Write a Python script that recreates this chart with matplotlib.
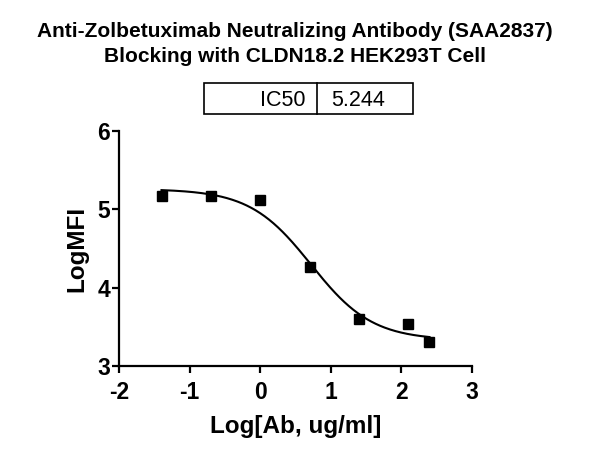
import numpy as np
import matplotlib
matplotlib.use("Agg")
import matplotlib.pyplot as plt
from matplotlib.patches import Rectangle
from matplotlib.lines import Line2D

plt.rcParams['font.family'] = ['Liberation Sans', 'DejaVu Sans']

# Data
log_conc = [-1.398, -0.699, 0.0, 0.699, 1.398, 2.097, 2.398]
log_mfi = [5.175, 5.17, 5.12, 4.27, 3.60, 3.535, 3.31]

# 4PL fit parameters
fit_top = 5.26
fit_bottom = 3.33
fit_logic50 = 0.7197
fit_hill = 1.0
ic50_label = "IC50"
ic50_value = "5.244"

title_lines = ["Anti-Zolbetuximab Neutralizing Antibody (SAA2837)",
               "Blocking with CLDN18.2 HEK293T Cell"]
xlabel = "Log[Ab, ug/ml]"
ylabel = "LogMFI"
xticks = [-2, -1, 0, 1, 2, 3]
yticks = [3, 4, 5, 6]

W, H = 590, 455
fig = plt.figure(figsize=(5.9, 4.55), dpi=100)
ax = fig.add_axes([119 / W, 1 - 366 / H, (472 - 119) / W, (366 - 131) / H])

xs = np.linspace(min(log_conc), max(log_conc), 300)
ys = fit_bottom + (fit_top - fit_bottom) / (1 + 10 ** ((xs - fit_logic50) * fit_hill))
ax.plot(xs, ys, color='black', lw=1.5, zorder=2)
ax.plot(log_conc, log_mfi, 's', color='black', markersize=7.5, zorder=3)

ax.set_xlim(-2, 3)
ax.set_ylim(3, 6)
ax.set_xticks(xticks)
ax.set_yticks(yticks)
ax.set_xticklabels([f"{t}" for t in xticks], fontsize=16.5, fontweight='bold')
ax.set_yticklabels([f"{t}" for t in yticks], fontsize=16.5, fontweight='bold')
ax.tick_params(direction='out', length=5, width=1.6)
ax.tick_params(axis='x', pad=5.5)
ax.tick_params(axis='y', pad=1.5)
for s in ['top', 'right']:
    ax.spines[s].set_visible(False)
for s in ['left', 'bottom']:
    ax.spines[s].set_linewidth(1.6)
ax.set_xlabel(xlabel, fontsize=17.5, fontweight='bold', labelpad=8)
ax.set_ylabel(ylabel, fontsize=17.5, fontweight='bold', labelpad=6.5)

fig.text(0.5, 1 - 37 / H, title_lines[0], ha='center', va='baseline', fontsize=15, fontweight='bold')
fig.text(0.5, 1 - 62 / H, title_lines[1], ha='center', va='baseline', fontsize=15, fontweight='bold')

# IC50 box
x0, x1, xm = 204 / W, 413 / W, 317 / W
y0, y1 = 1 - 114 / H, 1 - 83 / H
fig.add_artist(Rectangle((x0, y0), x1 - x0, y1 - y0, transform=fig.transFigure,
                         fill=False, lw=1.2, edgecolor='black'))
fig.add_artist(Line2D([xm, xm], [y0, y1], transform=fig.transFigure, lw=1.2, color='black'))
fig.text(306 / W, (y0 + y1) / 2, ic50_label, ha='right', va='center_baseline', fontsize=15.5)
fig.text(331 / W, (y0 + y1) / 2, ic50_value, ha='left', va='center_baseline', fontsize=15.5)

fig.savefig("out.png", dpi=100)
